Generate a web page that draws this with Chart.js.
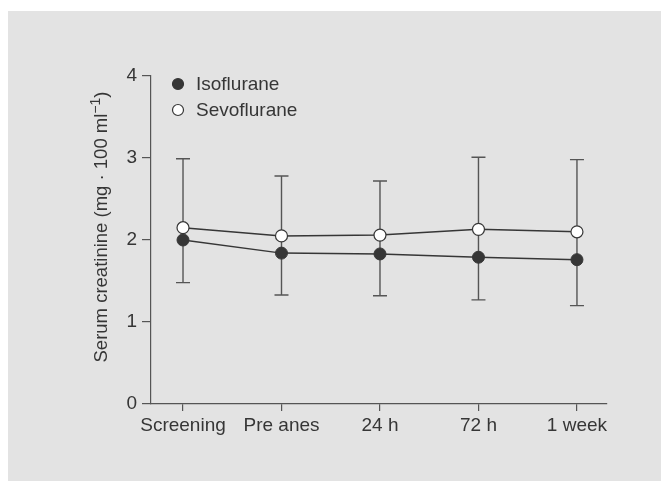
<!DOCTYPE html>
<html>
<head>
<meta charset="utf-8">
<script src="https://cdn.jsdelivr.net/npm/chart.js@4.4.1/dist/chart.umd.min.js"></script>
<style>
  html, body { margin: 0; padding: 0; background: #fff; }
  #panel { position: absolute; left: 8px; top: 11px; width: 653px; height: 470px; background: #e3e3e3; }
  #chart { position: absolute; left: 0; top: 0; }
</style>
</head>
<body>
<div id="panel"></div>
<canvas id="chart" width="661" height="481"></canvas>
<script>
// Serum creatinine, mean values and error bar ends
const categories = ['Screening', 'Pre anes', '24 h', '72 h', '1 week'];
const isoflurane = [2.00, 1.84, 1.83, 1.79, 1.76];
const sevoflurane = [2.15, 2.05, 2.06, 2.13, 2.10];
const errorUpper = [2.99, 2.78, 2.72, 3.01, 2.98];
const errorLower = [1.48, 1.33, 1.32, 1.27, 1.20];
const yTicks = [0, 1, 2, 3, 4];

const FONT = "'Liberation Sans', Arial, sans-serif";
const INK = '#363636';

// Error bars drawn behind the lines
const errorBars = {
    id: 'errorBars',
    beforeDatasetsDraw(chart) {
        const { ctx, scales: { x, y } } = chart;
        ctx.save();
        ctx.strokeStyle = '#555';
        ctx.lineWidth = 1.4;
        categories.forEach((c, i) => {
            const px = x.getPixelForValue(i);
            const top = y.getPixelForValue(errorUpper[i]);
            const bot = y.getPixelForValue(errorLower[i]);
            ctx.beginPath();
            ctx.moveTo(px, top); ctx.lineTo(px, bot);
            ctx.moveTo(px - 7, top); ctx.lineTo(px + 7, top);
            ctx.moveTo(px - 7, bot); ctx.lineTo(px + 7, bot);
            ctx.stroke();
        });
        ctx.restore();
    }
};

// Legend in the top-left of the plot and the rotated y title with superscript
const annotations = {
    id: 'annotations',
    afterDraw(chart) {
        const { ctx, chartArea } = chart;
        ctx.save();
        // legend
        chart.data.datasets.forEach((ds, i) => {
            const cy = chartArea.top + 8 + i * 26;
            const cx = chartArea.left + 27;
            ctx.beginPath();
            ctx.arc(cx, cy, 5.5, 0, Math.PI * 2);
            ctx.fillStyle = ds.pointBackgroundColor;
            ctx.fill();
            ctx.lineWidth = 1.2;
            ctx.strokeStyle = INK;
            ctx.stroke();
            ctx.fillStyle = INK;
            ctx.font = '19px ' + FONT;
            ctx.textBaseline = 'middle';
            ctx.textAlign = 'left';
            ctx.fillText(ds.label, cx + 18, cy + 1);
        });
        // y title
        const main = 'Serum creatinine (mg · 100 ml';
        const sup = '\u22121';
        const end = ')';
        ctx.translate(102, 227);
        ctx.rotate(-Math.PI / 2);
        ctx.font = '18.5px ' + FONT;
        const w1 = ctx.measureText(main).width;
        const w3 = ctx.measureText(end).width;
        ctx.font = '14px ' + FONT;
        const w2 = ctx.measureText(sup).width;
        let xPos = -(w1 + w2 + w3) / 2;
        ctx.fillStyle = INK;
        ctx.textBaseline = 'middle';
        ctx.textAlign = 'left';
        ctx.font = '18.5px ' + FONT;
        ctx.fillText(main, xPos, 0);
        xPos += w1;
        ctx.font = '14px ' + FONT;
        ctx.fillText(sup, xPos, -6);
        xPos += w2;
        ctx.font = '18.5px ' + FONT;
        ctx.fillText(end, xPos, 0);
        ctx.restore();
    }
};

const toPoints = arr => arr.map((v, i) => ({ x: i, y: v }));

new Chart(document.getElementById('chart'), {
    type: 'line',
    data: {
        datasets: [
            {
                label: 'Isoflurane',
                data: toPoints(isoflurane),
                borderColor: INK,
                borderWidth: 1.5,
                pointRadius: 6,
                pointBackgroundColor: INK,
                pointBorderColor: INK,
                pointBorderWidth: 1,
                tension: 0
            },
            {
                label: 'Sevoflurane',
                data: toPoints(sevoflurane),
                borderColor: INK,
                borderWidth: 1.5,
                pointRadius: 6,
                pointBackgroundColor: '#ffffff',
                pointBorderColor: INK,
                pointBorderWidth: 1.2,
                tension: 0
            }
        ]
    },
    options: {
        responsive: false,
        animation: false,
        layout: { padding: { left: 92, right: 54, top: 76, bottom: 37 } },
        plugins: { legend: { display: false }, tooltip: { enabled: false } },
        scales: {
            x: {
                type: 'linear',
                min: -0.325,
                max: 4.305,
                afterBuildTicks: scale => { scale.ticks = categories.map((c, i) => ({ value: i })); },
                afterFit: scale => { scale.height = 40; },
                grid: { drawOnChartArea: false, tickLength: 7, color: '#555', lineWidth: 1.2 },
                border: { color: '#555', width: 1.2 },
                ticks: {
                    color: INK,
                    font: { family: FONT, size: 19 },
                    padding: 3,
                    maxRotation: 0,
                    autoSkip: false,
                    callback: v => categories[v]
                }
            },
            y: {
                min: 0,
                max: 4,
                afterBuildTicks: scale => { scale.ticks = yTicks.map(v => ({ value: v })); },
                afterFit: scale => { scale.width = 59; },
                grid: { drawOnChartArea: false, tickLength: 9, color: '#555', lineWidth: 1.2 },
                border: { color: '#555', width: 1.2 },
                ticks: {
                    color: INK,
                    font: { family: FONT, size: 19 },
                    padding: 5
                }
            }
        }
    },
    plugins: [errorBars, annotations]
});
</script>
</body>
</html>
